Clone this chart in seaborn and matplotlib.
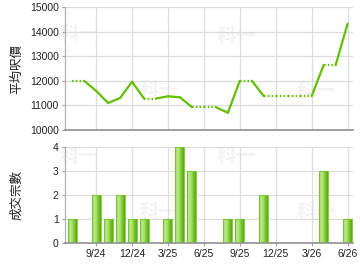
import numpy as np
import pandas as pd
import seaborn as sns
import matplotlib
matplotlib.use("Agg")
import matplotlib.pyplot as plt
from matplotlib.colors import LinearSegmentedColormap

months = ['7/24', '8/24', '9/24', '10/24', '11/24', '12/24', '1/25', '2/25', '3/25',
          '4/25', '5/25', '6/25', '7/25', '8/25', '9/25', '10/25', '11/25', '12/25',
          '1/26', '2/26', '3/26', '4/26', '5/26', '6/26']
counts = [1, 0, 2, 1, 2, 1, 1, 0, 1, 4, 3, 0, 0, 1, 1, 0, 2, 0, 0, 0, 0, 3, 0, 1]
prices = [12000, 12000, 11590, 11100, 11300, 11960, 11280, 11280, 11370, 11330,
          10930, 10930, 10930, 10700, 12000, 12000, 11380, 11380, 11380, 11380,
          11380, 12640, 12640, 14320]
tick_labels = ['9/24', '12/24', '3/25', '6/25', '9/25', '12/25', '3/26', '6/26']
price_label = '平均呎價'
count_label = '成交宗數'
watermark = '科一'

sns.set_theme(style='white')
plt.rcParams['font.family'] = ['Liberation Sans', 'DejaVu Sans']

fig = plt.figure(figsize=(3.6, 2.7), dpi=100)
ax1 = fig.add_axes([65/360, 1-130/270, 288/360, 123/270])
ax2 = fig.add_axes([65/360, 1-243/270, 288/360, 96/270])

tick_pos = [months.index(t) for t in tick_labels]
green = '#62c000'
grid_c = '#dcdcdc'

# line segments: solid into months with deals, dotted into months without
rows = []
for i in range(len(months) - 1):
    kind = 'solid' if counts[i + 1] > 0 else 'dotted'
    for j in (i, i + 1):
        rows.append({'x': j, 'price': prices[j], 'seg': i, 'kind': kind})
seg_df = pd.DataFrame(rows)
sns.lineplot(data=seg_df, x='x', y='price', units='seg', estimator=None,
             style='kind', dashes={'solid': '', 'dotted': (0.7, 1.0)},
             color=green, linewidth=1.6, legend=False, ax=ax1, zorder=3)
for l in ax1.get_lines():
    l.set_dash_capstyle('butt')
    l.set_solid_capstyle('round')

bar_df = pd.DataFrame({'month': months, 'count': counts})
sns.barplot(data=bar_df, x='month', y='count', order=months, width=0.75,
            color='#8ed24a', linewidth=0, ax=ax2, zorder=2)

cmap = LinearSegmentedColormap.from_list(
    'g', ['#86cf40', '#bfeb92', '#a2dc64', '#72c226', '#5aac0c'])
grad = np.linspace(0, 1, 64).reshape(1, -1)
for p in list(ax2.patches):
    h = p.get_height()
    if h <= 0:
        continue
    x0 = p.get_x()
    w = p.get_width()
    im = ax2.imshow(grad, cmap=cmap, extent=[x0, x0 + w, 0, h], aspect='auto',
                    zorder=2.5, interpolation='bilinear')
    im.set_clip_path(p)
    ax2.add_patch(plt.Rectangle((x0, 0), w, h, fill=False, edgecolor='#74c22e',
                                linewidth=0.6, zorder=2.6))

for ax in (ax1, ax2):
    ax.set_xlim(-0.6, 23.45)
    ax.set_xticks(tick_pos)
    ax.grid(True, color=grid_c, linewidth=0.9, zorder=0)
    ax.set_axisbelow(True)
    for s in ('top', 'right'):
        ax.spines[s].set_visible(False)
    ax.spines['left'].set_color('#b0b0b0')
    ax.spines['left'].set_linewidth(0.9)
    ax.spines['bottom'].set_color('#909090')
    ax.spines['bottom'].set_linewidth(1.2)
    ax.tick_params(axis='both', length=2.5, width=0.8, color='#a0a0a0',
                   labelsize=7.5, labelcolor='#222222', pad=2, bottom=True, left=True)
    ax.set_xlabel('')

ax1.set_ylim(10000, 15000)
ax1.set_yticks(np.arange(10000, 15001, 1000))
ax1.set_xticklabels([])
ax1.tick_params(axis='x', length=0)
ax2.set_ylim(0, 4)
ax2.set_yticks([0, 1, 2, 3, 4])
ax2.set_xticklabels(tick_labels)

ax1.set_ylabel(price_label, family=['Noto Sans CJK TC', 'DejaVu Sans'],
               fontsize=9, color='#222222')
ax2.set_ylabel(count_label, family=['Noto Sans CJK TC', 'DejaVu Sans'],
               fontsize=9, color='#222222')
ax1.yaxis.set_label_coords(-(65-23)/288, 0.5)
ax2.yaxis.set_label_coords(-(65-23)/288, 0.5)

# faint watermarks inside the plot areas (positions in axes fractions)
wm_top = [(14/288, 1-27/123), (94/288, 1-84/123), (171/288, 1-29/123), (251/288, 1-85/123)]
wm_bot = [(14/288, 1-9/96), (94/288, 1-66/96), (171/288, 1-9/96), (251/288, 1-65/96)]
for ax, pts in ((ax1, wm_top), (ax2, wm_bot)):
    for (fx, fy) in pts:
        ax.text(fx, fy, watermark, transform=ax.transAxes,
                family=['Noto Sans CJK TC', 'DejaVu Sans'], fontsize=14,
                fontweight='bold', color='#f3f3f3', ha='center', va='center',
                zorder=0.5)

fig.savefig('out.png', dpi=100)
